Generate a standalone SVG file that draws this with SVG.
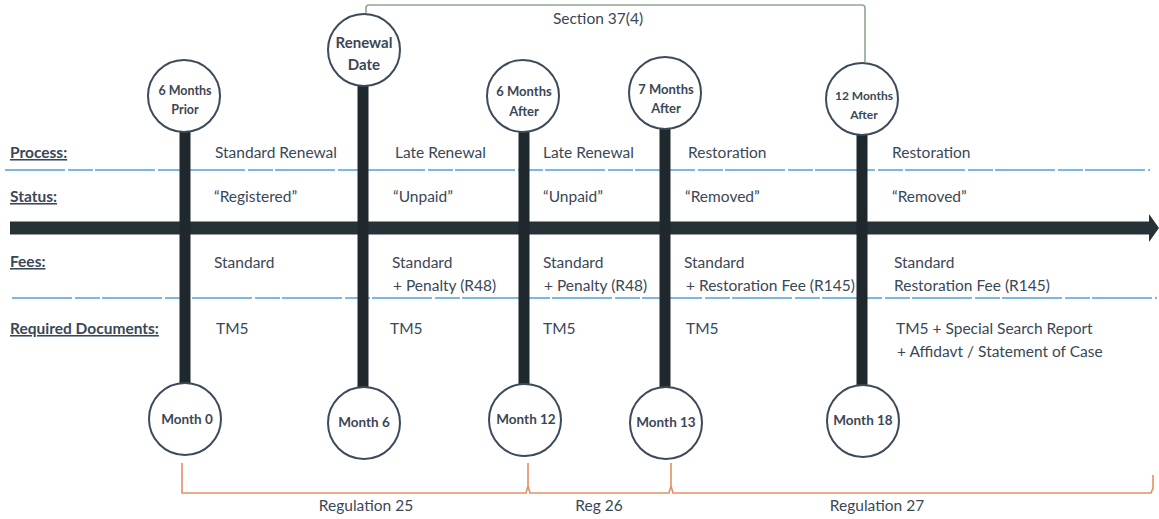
<svg xmlns="http://www.w3.org/2000/svg" width="1159" height="519" viewBox="0 0 1159 519">
<style>
text{font-family:Lato,"Open Sans","Liberation Sans",sans-serif;fill:#3a4757}
.t{font-size:15.5px}
.h{font-size:15.5px;font-weight:bold;text-decoration:underline}
.c{font-weight:bold;text-anchor:middle}
.l{font-size:15.5px;text-anchor:middle}
.circ{fill:#fff;stroke:#3c4a5a;stroke-width:2}
.bar{stroke:#1f282d;stroke-width:11}
.dash{stroke:#7db9dd;stroke-width:2;stroke-dasharray:60 3 25 2}
.reg{fill:none;stroke:#e58e62;stroke-width:1.6}
.sec{fill:none;stroke:#8ea78f;stroke-width:1.6}
</style>

<g id="grid">
<line class="dash" x1="5" y1="170" x2="1150" y2="170"/>
<line class="dash" x1="12" y1="298" x2="1157" y2="298"/>
</g>

<g id="axis">
<line x1="10" y1="228" x2="1151" y2="228" stroke="#263238" stroke-width="13"/>
<polygon points="1149,214 1159,228 1149,242" fill="#263238"/>
</g>

<g id="connectors">
<line class="bar" x1="185" y1="130" x2="185" y2="385"/>
<line class="bar" x1="363" y1="85" x2="363" y2="388"/>
<line class="bar" x1="524" y1="130" x2="524" y2="386"/>
<line class="bar" x1="665" y1="128" x2="665" y2="389"/>
<line class="bar" x1="862" y1="134" x2="862" y2="387"/>
<path class="sec" d="M366,13 V8 Q366,5 369,5 H862 Q865,5 865,8 V62"/>
<path class="reg" d="M182,463 V493 H526 L528,486 V463 M528,486 L530,493 H669 L671,486 V463 M671,486 L673,493 H1151 L1153,488 V475"/>
</g>

<g id="labels-rows">
<text class="h" x="10" y="158">Process:</text>
<text class="h" x="10" y="202">Status:</text>
<text class="h" x="10" y="267">Fees:</text>
<text class="h" x="10" y="334">Required Documents:</text>
</g>

<g id="process">
<text class="t" x="215" y="158">Standard Renewal</text>
<text class="t" x="395" y="158">Late Renewal</text>
<text class="t" x="543" y="158">Late Renewal</text>
<text class="t" x="688" y="158">Restoration</text>
<text class="t" x="892" y="158">Restoration</text>
</g>

<g id="status">
<text class="t" x="214" y="202">“Registered”</text>
<text class="t" x="393" y="202">“Unpaid”</text>
<text class="t" x="543" y="202">“Unpaid”</text>
<text class="t" x="685" y="202">“Removed”</text>
<text class="t" x="892" y="202">“Removed”</text>
</g>

<g id="fees">
<text class="t" x="214" y="268">Standard</text>
<text class="t" x="392" y="268">Standard</text>
<text class="t" x="393" y="291">+ Penalty (R48)</text>
<text class="t" x="543" y="268">Standard</text>
<text class="t" x="544" y="291">+ Penalty (R48)</text>
<text class="t" x="684" y="268">Standard</text>
<text class="t" x="686" y="291">+ Restoration Fee (R145)</text>
<text class="t" x="894" y="268">Standard</text>
<text class="t" x="894" y="291">Restoration Fee (R145)</text>
</g>

<g id="docs">
<text class="t" x="216" y="334">TM5</text>
<text class="t" x="390" y="334">TM5</text>
<text class="t" x="543" y="334">TM5</text>
<text class="t" x="686" y="334">TM5</text>
<text class="t" x="896" y="334">TM5 + Special Search Report</text>
<text class="t" x="897" y="357">+ Affidavt / Statement of Case</text>
</g>

<g id="n-6-months-prior">
<circle class="circ" cx="184" cy="96" r="36"/>
<text class="c" x="185" y="95" font-size="12.5">6 Months</text>
<text class="c" x="185" y="114" font-size="12.5">Prior</text>
</g>
<g id="n-renewal-date">
<circle class="circ" cx="364" cy="50" r="36"/>
<text class="c" x="364" y="48" font-size="15">Renewal</text>
<text class="c" x="364" y="70" font-size="15">Date</text>
</g>
<g id="n-6-months-after">
<circle class="circ" cx="523" cy="96" r="36"/>
<text class="c" x="524" y="96" font-size="13">6 Months</text>
<text class="c" x="524" y="116" font-size="13">After</text>
</g>
<g id="n-7-months-after">
<circle class="circ" cx="665" cy="93" r="36"/>
<text class="c" x="666" y="94" font-size="13">7 Months</text>
<text class="c" x="666" y="113" font-size="13">After</text>
</g>
<g id="n-12-months-after">
<circle class="circ" cx="862" cy="99" r="36"/>
<text class="c" x="864" y="100" font-size="12">12 Months</text>
<text class="c" x="864" y="119" font-size="12">After</text>
</g>

<g id="n-month-0">
<circle class="circ" cx="185" cy="419" r="36"/>
<text class="c" x="187" y="424" font-size="13.5">Month 0</text>
</g>
<g id="n-month-6">
<circle class="circ" cx="364" cy="423" r="36"/>
<text class="c" x="364" y="427" font-size="13.5">Month 6</text>
</g>
<g id="n-month-12">
<circle class="circ" cx="525" cy="420" r="36"/>
<text class="c" x="526" y="424" font-size="13.5">Month 12</text>
</g>
<g id="n-month-13">
<circle class="circ" cx="666" cy="423" r="36"/>
<text class="c" x="666" y="427" font-size="13.5">Month 13</text>
</g>
<g id="n-month-18">
<circle class="circ" cx="863" cy="421" r="36"/>
<text class="c" x="863" y="425" font-size="13.5">Month 18</text>
</g>

<g id="bracket-labels">
<text class="l" x="598" y="24">Section 37(4)</text>
<text class="l" x="366" y="511">Regulation 25</text>
<text class="l" x="599" y="511">Reg 26</text>
<text class="l" x="877" y="511">Regulation 27</text>
</g>
</svg>
